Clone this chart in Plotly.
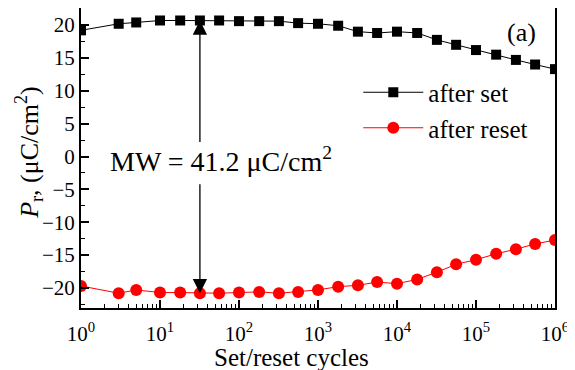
import math
import plotly.graph_objects as go

cycles = [1, 3, 5, 10, 18, 32, 56, 100, 180, 320, 560, 1000, 1800, 3200, 5600,
          1e4, 1.8e4, 3.2e4, 5.6e4, 1e5, 1.8e5, 3.2e5, 5.6e5, 1e6]
after_set = [19.2, 20.2, 20.4, 20.7, 20.7, 20.7, 20.7, 20.6, 20.6, 20.6, 20.3, 20.2,
             19.9, 19.0, 18.8, 19.0, 18.8, 17.75, 17.0, 16.2, 15.5, 14.7, 14.0, 13.3]
after_reset = [-19.7, -20.8, -20.3, -20.7, -20.7, -20.8, -20.8, -20.7, -20.6, -20.8,
               -20.6, -20.3, -19.8, -19.6, -19.1, -19.35, -18.7, -17.6, -16.4, -15.7,
               -14.8, -14.1, -13.3, -12.7]
x_tickvals = [1, 10, 100, 1e3, 1e4, 1e5, 1e6]
x_ticktext = ["10<sup>0</sup>", "10<sup>1</sup>", "10<sup>2</sup>", "10<sup>3</sup>",
              "10<sup>4</sup>", "10<sup>5</sup>", "10<sup>6</sup>"]
y_tickvals = [-20, -15, -10, -5, 0, 5, 10, 15, 20]
mw_index = 5

FONT = "Liberation Serif"

fig = go.Figure()
fig.add_trace(go.Scatter(x=cycles, y=after_set, mode="lines+markers", name="after set",
                         line=dict(color="black", width=1),
                         marker=dict(symbol="square", size=10, color="black")))
fig.add_trace(go.Scatter(x=cycles, y=after_reset, mode="lines+markers", name="after reset",
                         line=dict(color="#ff0000", width=1),
                         marker=dict(symbol="circle", size=12, color="#ff0000")))

xa = math.log10(cycles[mw_index])
fig.add_annotation(x=xa, y=after_set[mw_index], ax=xa, ay=2.0, xref="x", yref="y",
                   axref="x", ayref="y", showarrow=True, arrowhead=2, arrowsize=2.2,
                   arrowwidth=1.3, arrowcolor="black", text="")
fig.add_annotation(x=xa, y=after_reset[mw_index], ax=xa, ay=-4.0, xref="x", yref="y",
                   axref="x", ayref="y", showarrow=True, arrowhead=2, arrowsize=2.2,
                   arrowwidth=1.3, arrowcolor="black", text="")
fig.add_annotation(x=0.295, y=0.495, xref="paper", yref="paper", showarrow=False,
                   xanchor="center", yanchor="middle",
                   text="MW = 41.2 μC/cm<sup>2</sup>", font=dict(size=28, color="black", family=FONT))
fig.add_annotation(x=0.965, y=0.917, xref="paper", yref="paper", showarrow=False,
                   xanchor="right", yanchor="middle", text="(a)",
                   font=dict(size=26, color="black", family=FONT))
fig.add_annotation(x=0.445, y=-0.165, xref="paper", yref="paper", showarrow=False,
                   xanchor="center", yanchor="middle",
                   text="Set/reset cycles", font=dict(size=25, color="black", family=FONT))
fig.add_annotation(x=-0.11, y=0.52, xref="paper", yref="paper", showarrow=False,
                   xanchor="center", yanchor="middle", textangle=-90,
                   text="<i>P</i><sub>r</sub>, (μC/cm<sup>2</sup>)",
                   font=dict(size=26, color="black", family=FONT))

fig.update_layout(
    width=567, height=362,
    margin=dict(l=73, r=20, t=0, b=62),
    paper_bgcolor="white", plot_bgcolor="white",
    font=dict(family=FONT, size=22, color="black"),
    showlegend=True,
    legend=dict(x=0.585, y=0.795, xanchor="left", yanchor="top", bgcolor="rgba(0,0,0,0)",
                font=dict(size=25, family=FONT), itemwidth=60, tracegroupgap=0),
    xaxis=dict(type="log", range=[0, 6], tickvals=x_tickvals, ticktext=x_ticktext,
               automargin=False, ticklabelstandoff=6,
               showgrid=False, zeroline=False, showline=True, linecolor="black",
               linewidth=2, mirror=True, ticks="inside", ticklen=8, tickwidth=1.5,
               tickcolor="black", tickfont=dict(size=21, family=FONT),
               minor=dict(dtick="D1", ticks="inside", ticklen=4, tickwidth=1.2,
                          tickcolor="black", showgrid=False)),
    yaxis=dict(range=[-23.05, 22.6], tickvals=y_tickvals, showgrid=False, zeroline=False,
               automargin=False,
               showline=True, linecolor="black", linewidth=2, mirror=True,
               ticks="inside", ticklen=8, tickwidth=1.5, tickcolor="black",
               tickfont=dict(size=21, family=FONT),
               minor=dict(dtick=2.5, tick0=0, ticks="inside", ticklen=4, tickwidth=1.2,
                          tickcolor="black", showgrid=False)),
)

fig.write_html("out.html")
